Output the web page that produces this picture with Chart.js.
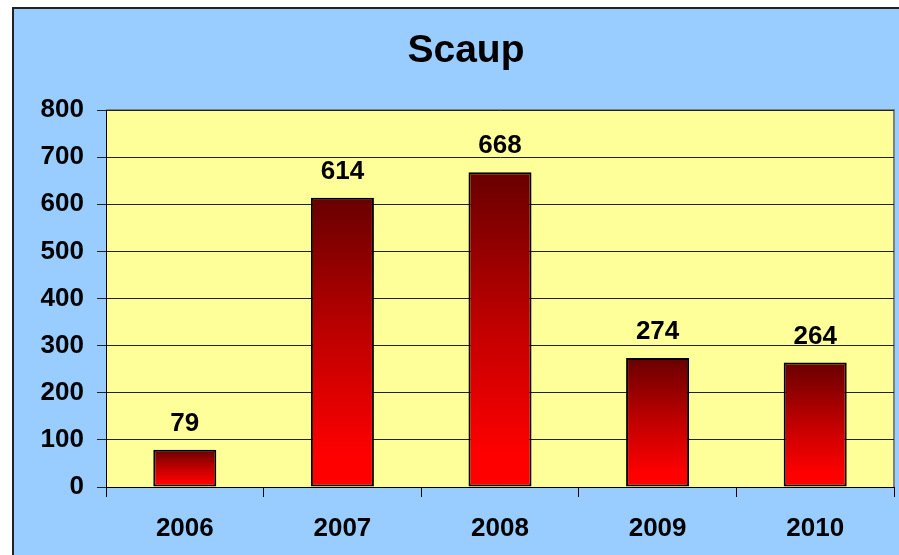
<!DOCTYPE html>
<html>
<head>
<meta charset="utf-8">
<script src="https://cdn.jsdelivr.net/npm/chart.js@4"></script>
<style>
    html, body { margin: 0; padding: 0; background: #fff; overflow: hidden; }
    #frame { position: absolute; left: 12px; top: 7px; width: 900px; height: 560px; background: #99ccff; border: 2px solid #222; }
    #scaupChart { position: absolute; left: 0; top: 0; }
</style>
</head>
<body>
<div id="frame"></div>
<canvas id="scaupChart" width="899" height="555"></canvas>
<script>
// Dados
const chartTitle = 'Scaup';
const years = ['2006', '2007', '2008', '2009', '2010'];
const counts = [79, 614, 668, 274, 264];
const yTicks = [0, 100, 200, 300, 400, 500, 600, 700, 800];

const FONT = '"Liberation Sans", Arial, sans-serif';

// fundo amarelo da area do grafico + borda cinza
const plotBackground = {
    id: 'plotBackground',
    beforeDraw(chart) {
        const { ctx, chartArea: a } = chart;
        ctx.save();
        ctx.fillStyle = '#ffff99';
        ctx.fillRect(a.left, a.top, a.right - a.left, a.bottom - a.top);
        ctx.strokeStyle = '#808080';
        ctx.lineWidth = 2;
        ctx.beginPath();
        ctx.moveTo(a.left, a.top);
        ctx.lineTo(a.right, a.top);
        ctx.lineTo(a.right, a.bottom);
        ctx.stroke();
        ctx.restore();
    }
};

// valores em cima das barras
const barValues = {
    id: 'barValues',
    afterDatasetsDraw(chart) {
        const { ctx } = chart;
        const meta = chart.getDatasetMeta(0);
        ctx.save();
        ctx.font = 'bold 26px ' + FONT;
        ctx.fillStyle = '#000';
        ctx.textAlign = 'center';
        ctx.textBaseline = 'alphabetic';
        meta.data.forEach((bar, i) => {
            ctx.fillText(String(counts[i]), bar.x, bar.y - 19);
        });
        ctx.restore();
    }
};

// titulo
const titleText = {
    id: 'titleText',
    afterDraw(chart) {
        const { ctx } = chart;
        ctx.save();
        ctx.font = 'bold 39px ' + FONT;
        ctx.fillStyle = '#000';
        ctx.textAlign = 'center';
        ctx.textBaseline = 'alphabetic';
        ctx.fillText(chartTitle, 466, 62);
        ctx.restore();
    }
};

function barGradient(context) {
    const chart = context.chart;
    if (!chart.chartArea || context.type !== 'data') return '#c00000';
    const y = chart.scales.y;
    const top = y.getPixelForValue(context.raw);
    const bottom = y.getPixelForValue(0);
    const g = chart.ctx.createLinearGradient(0, top, 0, bottom);
    g.addColorStop(0, '#680000');
    g.addColorStop(0.5, '#c20000');
    g.addColorStop(0.9, '#ff0000');
    g.addColorStop(1, '#ff0000');
    return g;
}

new Chart(document.getElementById('scaupChart').getContext('2d'), {
    type: 'bar',
    data: {
        labels: years,
        datasets: [{
            label: chartTitle,
            data: counts,
            backgroundColor: barGradient,
            borderColor: '#000',
            borderWidth: 2,
            borderSkipped: false,
            barPercentage: 0.4,
            categoryPercentage: 1
        }]
    },
    options: {
        responsive: false,
        animation: false,
        layout: { padding: { top: 110, right: 5, left: 0, bottom: 0 } },
        plugins: {
            legend: { display: false },
            title: { display: false },
            tooltip: { enabled: false }
        },
        scales: {
            x: {
                afterFit: (s) => { s.height = 68; },
                border: { color: '#000', width: 1 },
                grid: { offset: true, drawOnChartArea: false, tickLength: 10, color: '#000' },
                ticks: { color: '#000', padding: 16, font: { family: FONT, size: 26, weight: 'bold' } }
            },
            y: {
                min: yTicks[0],
                max: yTicks[yTicks.length - 1],
                afterFit: (s) => { s.width = 106; },
                border: { color: '#000', width: 1 },
                grid: { color: '#222', lineWidth: 1, tickLength: 9 },
                ticks: {
                    stepSize: yTicks[1] - yTicks[0],
                    color: '#000',
                    padding: 13,
                    font: { family: FONT, size: 26, weight: 'bold' }
                }
            }
        }
    },
    plugins: [plotBackground, barValues, titleText]
});
</script>
</body>
</html>
